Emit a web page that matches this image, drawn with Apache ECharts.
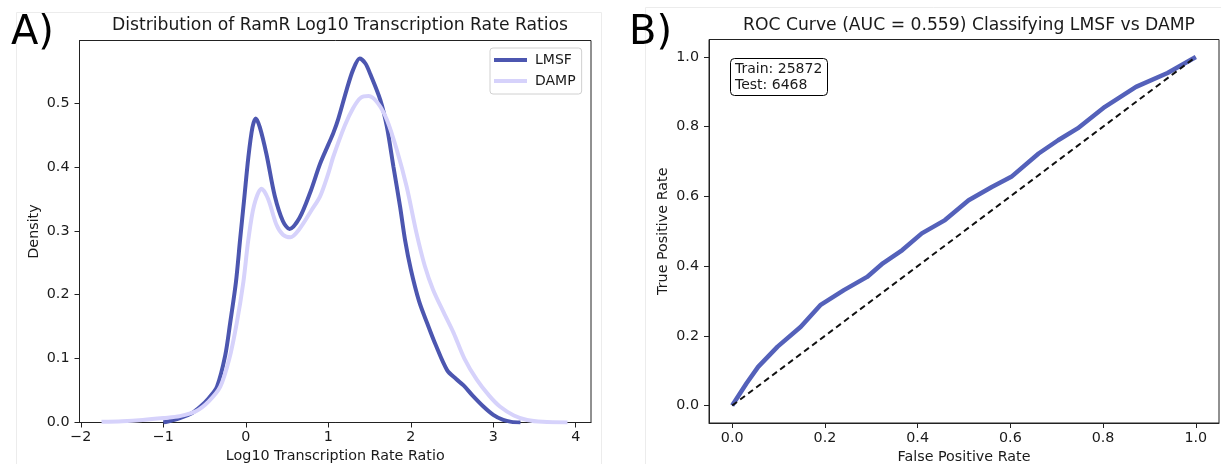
<!DOCTYPE html>
<html>
<head>
<meta charset="utf-8">
<title>RamR KDE and ROC</title>
<script src="https://cdn.jsdelivr.net/npm/echarts@6/dist/echarts.min.js"></script>
<style>
  html, body { margin: 0; padding: 0; background: #fff; }
  #main { width: 1221px; height: 464px; }
</style>
</head>
<body>
<div id="main"></div>
<script>
// KDE of log10 transcription rate ratio
var lmsfX = [-1.0, -0.8, -0.65, -0.55, -0.45, -0.35, -0.25, -0.19, -0.12, -0.07, -0.02, 0.03, 0.08, 0.12, 0.17, 0.25, 0.35, 0.45, 0.53, 0.65, 0.78, 0.9, 1.0, 1.06, 1.12, 1.22, 1.3, 1.38, 1.45, 1.51, 1.63, 1.71, 1.79, 1.87, 1.93, 2.0, 2.1, 2.2, 2.3, 2.44, 2.55, 2.64, 2.75, 2.88, 3.0, 3.12, 3.22, 3.33];
var lmsfY = [0.0, 0.007, 0.015, 0.025, 0.038, 0.056, 0.105, 0.156, 0.22, 0.286, 0.35, 0.415, 0.462, 0.476, 0.462, 0.42, 0.355, 0.315, 0.303, 0.32, 0.36, 0.405, 0.435, 0.453, 0.475, 0.52, 0.552, 0.570, 0.562, 0.545, 0.505, 0.463, 0.40, 0.338, 0.286, 0.24, 0.19, 0.155, 0.122, 0.082, 0.068, 0.058, 0.042, 0.025, 0.012, 0.004, 0.001, 0.0];
var dampX = [-1.75, -1.5, -1.25, -1.0, -0.8, -0.6, -0.45, -0.31, -0.2, -0.11, -0.03, 0.03, 0.1, 0.19, 0.27, 0.37, 0.45, 0.54, 0.65, 0.8, 0.9, 1.0, 1.06, 1.2, 1.3, 1.39, 1.49, 1.6, 1.71, 1.83, 1.95, 2.07, 2.17, 2.27, 2.4, 2.52, 2.65, 2.8, 2.95, 3.08, 3.25, 3.41, 3.6, 3.9];
var dampY = [0.001, 0.002, 0.004, 0.007, 0.01, 0.018, 0.033, 0.056, 0.1, 0.156, 0.22, 0.286, 0.34, 0.366, 0.35, 0.31, 0.294, 0.29, 0.303, 0.333, 0.354, 0.39, 0.416, 0.465, 0.492, 0.508, 0.511, 0.50, 0.474, 0.427, 0.369, 0.296, 0.245, 0.208, 0.172, 0.14, 0.1, 0.067, 0.042, 0.025, 0.011, 0.004, 0.001, 0.0];

// ROC curve
var fpr = [0, 0.031, 0.056, 0.098, 0.148, 0.19, 0.241, 0.291, 0.325, 0.367, 0.409, 0.459, 0.51, 0.56, 0.602, 0.661, 0.703, 0.745, 0.804, 0.871, 0.939, 1.0];
var tpr = [0, 0.064, 0.111, 0.169, 0.226, 0.288, 0.331, 0.369, 0.408, 0.446, 0.494, 0.532, 0.589, 0.627, 0.656, 0.723, 0.761, 0.795, 0.857, 0.914, 0.954, 1.0];
var diagX = [0, 1];
var diagY = [0, 1];

var kdeTicksX = [-2, -1, 0, 1, 2, 3, 4];
var kdeTicksY = [0, 0.1, 0.2, 0.3, 0.4, 0.5];
var rocTicks = [0, 0.2, 0.4, 0.6, 0.8, 1.0];

function pairs(xs, ys) {
  return xs.map(function (x, i) { return [x, ys[i]]; });
}

var font = 'DejaVu Sans';
var ink = '#1a1a1a';
var labelSize = 14.3;

function axis(gridIndex, min, max, ticks, name, nameGap, fmt, vertical) {
  return {
    type: 'value',
    gridIndex: gridIndex,
    min: min,
    max: max,
    name: name,
    nameLocation: 'middle',
    nameGap: nameGap,
    nameTextStyle: { fontFamily: font, fontSize: labelSize, color: ink },
    axisLine: { show: true, onZero: false, lineStyle: { color: '#222', width: 1 } },
    axisTick: { show: true, inside: false, length: 5, customValues: ticks, lineStyle: { color: '#222', width: 1 } },
    axisLabel: {
      customValues: ticks,
      margin: vertical ? 10 : 8,
      fontFamily: font,
      fontSize: labelSize,
      color: ink,
      formatter: fmt
    },
    splitLine: { show: false }
  };
}

var oneDec = function (v) { return v.toFixed(1); };
var intMinus = function (v) { return String(Math.round(v)).replace('-', '\u2212'); };

var chart = echarts.init(document.getElementById('main'), null, { renderer: 'canvas' });

var option = {
  backgroundColor: '#fff',
  animation: false,
  graphic: [
    // faint outlines of the two pasted panels
    { type: 'rect', shape: { x: 16.5, y: 12.5, width: 585, height: 470 }, style: { fill: 'none', stroke: '#ececec', lineWidth: 1 }, z: -1 },
    { type: 'rect', shape: { x: 645.5, y: 7.5, width: 600, height: 470 }, style: { fill: 'none', stroke: '#ececec', lineWidth: 1 }, z: -1 }
  ],
  title: [
    { text: 'Distribution of RamR Log10 Transcription Rate Ratios', left: 335, top: 12, textAlign: 'center',
      textStyle: { fontFamily: font, fontSize: 17.2, fontWeight: 'normal', color: ink } },
    { text: 'ROC Curve (AUC = 0.559) Classifying LMSF vs DAMP', left: 964, top: 12, textAlign: 'center',
      textStyle: { fontFamily: font, fontSize: 17.2, fontWeight: 'normal', color: ink } },
    { text: 'A)', left: 6, top: 9, textStyle: { fontFamily: font, fontSize: 40, fontWeight: 'normal', color: '#000' } },
    { text: 'B)', left: 624, top: 9, textStyle: { fontFamily: font, fontSize: 40, fontWeight: 'normal', color: '#000' } },
    { text: 'Train: 25872\nTest: 6468', left: 730, top: 58,
      padding: [3, 5, 3, 5], borderColor: '#000', borderWidth: 1, borderRadius: 4, backgroundColor: '#fff',
      textStyle: { fontFamily: font, fontSize: 14, fontWeight: 'normal', color: ink, lineHeight: 16 } }
  ],
  legend: {
    data: ['LMSF', 'DAMP'],
    orient: 'vertical',
    left: 490,
    top: 48,
    padding: [4, 6, 5, 4],
    itemGap: 5,
    itemWidth: 33,
    itemHeight: 4,
    icon: 'rect',
    borderColor: '#d0d0d0',
    borderWidth: 1,
    borderRadius: 3,
    backgroundColor: '#fff',
    textStyle: { fontFamily: font, fontSize: 14, color: ink, lineHeight: 16, padding: [0, 0, 0, 3] }
  },
  grid: [
    { left: 79.5, top: 40.5, width: 511.5, height: 382, show: true, borderColor: '#222', borderWidth: 1,
      backgroundColor: 'transparent', outerBoundsMode: 'none', containLabel: false },
    { left: 709, top: 39.5, width: 510, height: 383.5, show: true, borderColor: '#222', borderWidth: 1,
      backgroundColor: 'transparent', outerBoundsMode: 'none', containLabel: false }
  ],
  xAxis: [
    axis(0, -2.017, 4.185, kdeTicksX, 'Log10 Transcription Rate Ratio', 27, intMinus, false),
    axis(1, -0.05, 1.05, rocTicks, 'False Positive Rate', 27, oneDec, false)
  ],
  yAxis: [
    axis(0, 0, 0.598, kdeTicksY, 'Density', 38, oneDec, true),
    axis(1, -0.05, 1.05, rocTicks, 'True Positive Rate', 39, oneDec, true)
  ],
  series: [
    {
      name: 'LMSF', type: 'line', xAxisIndex: 0, yAxisIndex: 0,
      data: pairs(lmsfX, lmsfY), smooth: 0.3, showSymbol: false,
      lineStyle: { color: '#4c56b0', width: 4 }, itemStyle: { color: '#4c56b0' }, z: 2
    },
    {
      name: 'DAMP', type: 'line', xAxisIndex: 0, yAxisIndex: 0,
      data: pairs(dampX, dampY), smooth: 0.3, showSymbol: false,
      lineStyle: { color: '#d6d2fb', width: 4 }, itemStyle: { color: '#d6d2fb' }, z: 3
    },
    {
      name: 'ROC', type: 'line', xAxisIndex: 1, yAxisIndex: 1,
      data: pairs(fpr, tpr), smooth: false, showSymbol: false,
      lineStyle: { color: '#5461ba', width: 4.5 }, z: 2
    },
    {
      name: 'Chance', type: 'line', xAxisIndex: 1, yAxisIndex: 1,
      data: pairs(diagX, diagY), showSymbol: false,
      lineStyle: { color: '#111', width: 2, type: [6, 4] }, z: 3
    }
  ]
};

chart.setOption(option);
</script>
</body>
</html>
